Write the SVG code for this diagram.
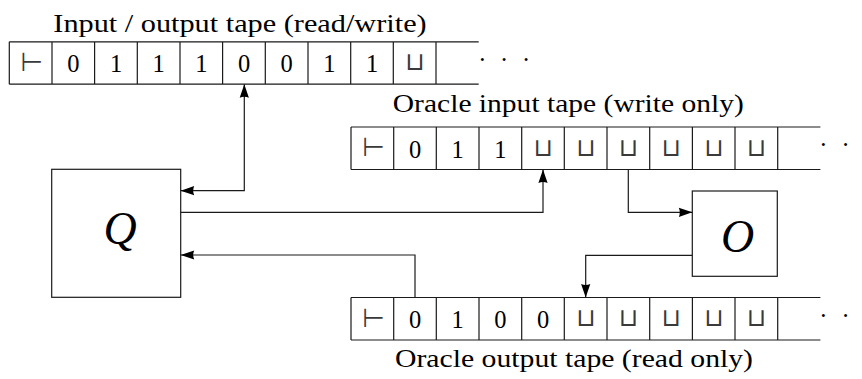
<svg xmlns="http://www.w3.org/2000/svg" width="862" height="379" viewBox="0 0 862 379">
  <style>
    .ln { fill: none; stroke: #1a1a1a; stroke-width: 1.2; }
    .box { fill: #ffffff; stroke: #1a1a1a; stroke-width: 1.2; }
    .t { font-family: "Liberation Serif", "Times New Roman", serif; font-size: 24.5px; fill: #000; }
    .c { font-family: "Liberation Serif", "Times New Roman", serif; font-size: 24.5px; fill: #000; text-anchor: middle; }
    .sym { font-family: "DejaVu Sans", sans-serif; font-size: 26px; fill: #3a3a3a; text-anchor: middle; }
    .sq { font-family: "DejaVu Sans", sans-serif; font-size: 25px; fill: #3a3a3a; text-anchor: middle; }
    .m { font-family: "Liberation Serif", "Times New Roman", serif; font-style: italic; font-size: 46px; fill: #000; text-anchor: middle; }
    .dots { font-family: "Liberation Serif", "Times New Roman", serif; font-size: 24.5px; fill: #000; text-anchor: middle; }
  </style>
  <defs>
    <marker id="arrow" viewBox="-14 -5 15 10" refX="0" refY="0" markerWidth="15" markerHeight="10" markerUnits="userSpaceOnUse" orient="auto-start-reverse">
      <path d="M0,0 L-13.5,-4.6 Q-11.5,0 -13.5,4.6 Z" fill="#000"/>
    </marker>
  </defs>

  <!-- Input / output tape -->
  <g id="io-tape">
    <text class="t" x="53.3" y="32.3" textLength="373.4" lengthAdjust="spacingAndGlyphs">Input / output tape (read/write)</text>
    <path class="ln" d="M9.3,41.8 H478.7 M9.3,84.2 H478.7
      M9.3,41.8 V84.2 M52,41.8 V84.2 M94.6,41.8 V84.2 M137.3,41.8 V84.2 M180,41.8 V84.2
      M222.6,41.8 V84.2 M265.3,41.8 V84.2 M308,41.8 V84.2 M350.7,41.8 V84.2 M393.3,41.8 V84.2 M436,41.8 V84.2"/>
    <text class="sym" x="31.6" y="70.8">⊢</text>
    <text class="c" x="73.3" y="72.3">0</text>
    <text class="c" x="116" y="72.3">1</text>
    <text class="c" x="158.6" y="72.3">1</text>
    <text class="c" x="201.3" y="72.3">1</text>
    <text class="c" x="244" y="72.3">0</text>
    <text class="c" x="286.7" y="72.3">0</text>
    <text class="c" x="329.3" y="72.3">1</text>
    <text class="c" x="372" y="72.3">1</text>
    <text class="sq" x="414.7" y="70.3">⊔</text>
    <text class="dots" x="482.3 504 526" y="68.2">···</text>
  </g>

  <!-- Oracle input tape -->
  <g id="oracle-input-tape">
    <text class="t" x="392.8" y="111.7" textLength="351" lengthAdjust="spacingAndGlyphs">Oracle input tape (write only)</text>
    <path class="ln" d="M351,127 H820.4 M351,169.5 H820.4
      M351,127 V169.5 M393.7,127 V169.5 M436.3,127 V169.5 M479,127 V169.5 M521.7,127 V169.5
      M564.3,127 V169.5 M607,127 V169.5 M649.7,127 V169.5 M692.4,127 V169.5 M735,127 V169.5 M777.7,127 V169.5"/>
    <text class="sym" x="373.3" y="156">⊢</text>
    <text class="c" x="415" y="157.5">0</text>
    <text class="c" x="457.7" y="157.5">1</text>
    <text class="c" x="500.3" y="157.5">1</text>
    <text class="sq" x="543" y="155.5">⊔</text>
    <text class="sq" x="585.7" y="155.5">⊔</text>
    <text class="sq" x="628.3" y="155.5">⊔</text>
    <text class="sq" x="671" y="155.5">⊔</text>
    <text class="sq" x="713.7" y="155.5">⊔</text>
    <text class="sq" x="756.3" y="155.5">⊔</text>
    <text class="dots" x="823.3 845.7" y="153">··</text>
  </g>

  <!-- Oracle output tape -->
  <g id="oracle-output-tape">
    <text class="t" x="395" y="366.7" textLength="358" lengthAdjust="spacingAndGlyphs">Oracle output tape (read only)</text>
    <path class="ln" d="M351,297.5 H820.4 M351,340 H820.4
      M351,297.5 V340 M393.7,297.5 V340 M436.3,297.5 V340 M479,297.5 V340 M521.7,297.5 V340
      M564.3,297.5 V340 M607,297.5 V340 M649.7,297.5 V340 M692.4,297.5 V340 M735,297.5 V340 M777.7,297.5 V340"/>
    <text class="sym" x="373.3" y="326.5">⊢</text>
    <text class="c" x="415" y="328">0</text>
    <text class="c" x="457.7" y="328">1</text>
    <text class="c" x="500.3" y="328">0</text>
    <text class="c" x="543" y="328">0</text>
    <text class="sq" x="585.7" y="326">⊔</text>
    <text class="sq" x="628.3" y="326">⊔</text>
    <text class="sq" x="671" y="326">⊔</text>
    <text class="sq" x="713.7" y="326">⊔</text>
    <text class="sq" x="756.3" y="326">⊔</text>
    <text class="dots" x="823.3 845.7" y="324">··</text>
  </g>

  <!-- Machine Q -->
  <g id="machine-q">
    <rect class="box" x="51.7" y="169.3" width="129" height="128"/>
    <text class="m" x="120" y="244">Q</text>
  </g>

  <!-- Oracle O -->
  <g id="oracle-o">
    <rect class="box" x="692.3" y="191" width="85" height="85.3"/>
    <text class="m" x="737.5" y="252">O</text>
  </g>

  <!-- Connectors -->
  <g id="connectors" class="ln">
    <path d="M244.3,84.2 V190.7 H180.7" marker-start="url(#arrow)" marker-end="url(#arrow)"/>
    <path d="M180.7,212.3 H543 V169.5" marker-end="url(#arrow)"/>
    <path d="M628.3,169.5 V212.3 H692.3" marker-end="url(#arrow)"/>
    <path d="M692.3,255.3 H585.7 V297.5" marker-end="url(#arrow)"/>
    <path d="M415,297.5 V255 H180.7" marker-end="url(#arrow)"/>
  </g>
</svg>
